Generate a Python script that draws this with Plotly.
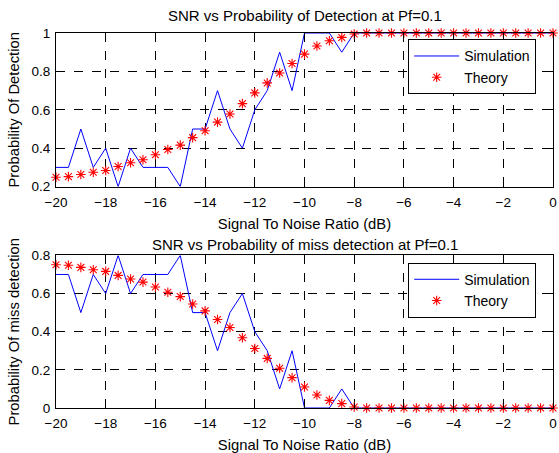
import plotly.graph_objects as go

snr = [-20 + 0.5 * i for i in range(41)]

pd_sim = [0.3, 0.3, 0.5, 0.3, 0.4, 0.2, 0.4, 0.3, 0.3, 0.3, 0.2, 0.5, 0.5, 0.7, 0.5, 0.4,
          0.6, 0.7, 0.9, 0.7, 1.0, 1.0, 1.0, 0.9, 1.0] + [1.0] * 16
pd_theory = [0.249, 0.252, 0.263, 0.275, 0.284, 0.305, 0.324, 0.34, 0.366, 0.393, 0.416,
             0.455, 0.491, 0.536, 0.578, 0.632, 0.688, 0.74, 0.792, 0.841, 0.89, 0.932,
             0.96, 0.977, 0.995] + [1.0] * 16
pm_sim = [0.7, 0.7, 0.5, 0.7, 0.6, 0.8, 0.6, 0.7, 0.7, 0.7, 0.8, 0.5, 0.5, 0.3, 0.5, 0.6,
          0.4, 0.3, 0.1, 0.3, 0.0, 0.0, 0.0, 0.1, 0.0] + [0.0] * 16
pm_theory = [0.751, 0.748, 0.737, 0.725, 0.716, 0.695, 0.676, 0.66, 0.634, 0.607, 0.584,
             0.545, 0.509, 0.464, 0.422, 0.368, 0.312, 0.26, 0.208, 0.159, 0.11, 0.068,
             0.04, 0.023, 0.005] + [0.0] * 16

xticks = [-20, -18, -16, -14, -12, -10, -8, -6, -4, -2, 0]
ticks_top = [0.2, 0.4, 0.6, 0.8, 1]
ticks_bot = [0, 0.2, 0.4, 0.6, 0.8]

FONT = "Liberation Sans, Arial, sans-serif"
FS_TICK = 13.5
FS_LAB = 14.8
FS_TITLE = 15
FS_LEG = 14
blue = "#0000FF"
red = "#FF0000"

fig = go.Figure()

def add_pair(sim, theo, xa, ya, legend):
    fig.add_trace(go.Scatter(x=snr, y=sim, mode="lines", name="Simulation",
                             line=dict(color=blue, width=1), xaxis=xa, yaxis=ya,
                             legend=legend))
    fig.add_trace(go.Scatter(x=snr, y=theo, mode="markers", name="Theory",
                             marker=dict(symbol="asterisk-open", size=8,
                                         line=dict(color=red, width=1.1), color=red),
                             cliponaxis=False, xaxis=xa, yaxis=ya, legend=legend))

add_pair(pd_sim, pd_theory, "x", "y", "legend")
add_pair(pm_sim, pm_theory, "x2", "y2", "legend2")

axis_common = dict(showline=True, linecolor="black", linewidth=1, mirror="ticks",
                   ticks="inside", ticklen=5, tickcolor="black",
                   showgrid=True, gridcolor="black", gridwidth=1, griddash="dash",
                   zeroline=False, ticklabeloverflow="allow",
                   tickfont=dict(family=FONT, size=FS_TICK, color="black"))
xaxis_extra = dict(ticklabelstandoff=3)
yaxis_extra = dict(ticklabelstandoff=2)

fig.update_layout(
    width=559, height=453,
    margin=dict(l=56, r=2, t=33, b=44),
    paper_bgcolor="white", plot_bgcolor="white",
    font=dict(family=FONT, size=FS_TICK, color="black"),
    xaxis=dict(domain=[0, 1], range=[-20, 0], tickvals=xticks, anchor="y",
               title=dict(text="Signal To Noise Ratio (dB)", standoff=9,
                          font=dict(family=FONT, size=FS_LAB)), **axis_common, **xaxis_extra),
    yaxis=dict(domain=[0.5904, 1], range=[0.2, 1], tickvals=ticks_top,
               ticktext=["0.2", "0.4", "0.6", "0.8", "1"], anchor="x",
               title=dict(text="Probability Of Detection", standoff=8,
                          font=dict(family=FONT, size=FS_LAB)), **axis_common, **yaxis_extra),
    xaxis2=dict(domain=[0, 1], range=[-20, 0], tickvals=xticks, anchor="y2",
                title=dict(text="Signal To Noise Ratio (dB)", standoff=9,
                           font=dict(family=FONT, size=FS_LAB)), **axis_common, **xaxis_extra),
    yaxis2=dict(domain=[0, 0.407], range=[0, 0.8], tickvals=ticks_bot,
                ticktext=["0", "0.2", "0.4", "0.6", "0.8"], anchor="x2",
                title=dict(text="Probability Of miss detection", standoff=8,
                           font=dict(family=FONT, size=FS_LAB)), **axis_common, **yaxis_extra),
    legend=dict(x=0.7086, y=0.983, xanchor="left", yanchor="top",
                bordercolor="black", borderwidth=1, bgcolor="white",
                font=dict(family=FONT, size=FS_LEG), itemwidth=45, tracegroupgap=0),
    legend2=dict(x=0.7086, y=0.3875, xanchor="left", yanchor="top",
                 bordercolor="black", borderwidth=1, bgcolor="white",
                 font=dict(family=FONT, size=FS_LEG), itemwidth=45, tracegroupgap=0),
    showlegend=True,
    annotations=[
        dict(text="SNR vs Probability of Detection at Pf=0.1", xref="paper", yref="paper",
             x=0.5, y=(453 - 44 - 15.3) / 376, xanchor="center", yanchor="middle",
             showarrow=False, font=dict(family=FONT, size=FS_TITLE)),
        dict(text="SNR vs Probability of miss detection at Pf=0.1", xref="paper", yref="paper",
             x=0.5, y=(453 - 44 - 244.7) / 376, xanchor="center", yanchor="middle",
             showarrow=False, font=dict(family=FONT, size=FS_TITLE)),
    ],
)

fig.write_html("out.html")
